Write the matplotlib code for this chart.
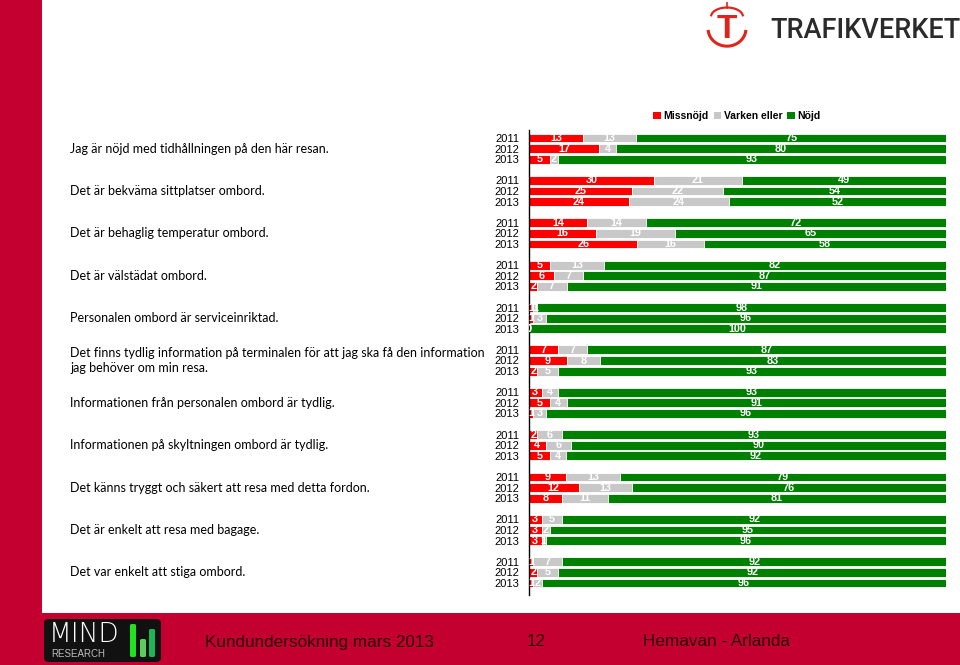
import matplotlib
matplotlib.use("Agg")
import matplotlib.pyplot as plt
from matplotlib.patches import Rectangle, FancyBboxPatch, Patch
from matplotlib.transforms import blended_transform_factory
import numpy as np

# ---------------- data ----------------
questions = [
    "Jag är nöjd med tidhållningen på den här resan.",
    "Det är bekväma sittplatser ombord.",
    "Det är behaglig temperatur ombord.",
    "Det är välstädat ombord.",
    "Personalen ombord är serviceinriktad.",
    "Det finns tydlig information på terminalen för att jag ska få den information\njag behöver om min resa.",
    "Informationen från personalen ombord är tydlig.",
    "Informationen på skyltningen ombord är tydlig.",
    "Det känns tryggt och säkert att resa med detta fordon.",
    "Det är enkelt att resa med bagage.",
    "Det var enkelt att stiga ombord.",
]
years = ["2011", "2012", "2013"]
series_names = ["Missnöjd", "Varken eller", "Nöjd"]

missnojd = [13, 17, 5, 30, 25, 24, 14, 16, 26, 5, 6, 2, 1, 1, 0, 7, 9, 2,
            3, 5, 1, 2, 4, 5, 9, 12, 8, 3, 3, 3, 1, 2, 1]
varken = [13, 4, 2, 21, 22, 24, 14, 19, 16, 13, 7, 7, 1, 3, 0, 7, 8, 5,
          4, 4, 3, 6, 6, 4, 13, 13, 11, 5, 2, 1, 7, 5, 2]
nojd = [75, 80, 93, 49, 54, 52, 72, 65, 58, 82, 87, 91, 98, 96, 100, 87, 83, 93,
        93, 91, 96, 93, 90, 92, 79, 76, 81, 92, 95, 96, 92, 92, 96]

colors = ["#FF0000", "#C8C8C8", "#008000"]

# ---------------- figure ----------------
W, H = 960, 665
fig = plt.figure(figsize=(W / 100, H / 100), dpi=100)
fig.patch.set_facecolor("white")

def fx(px):
    return px / W

def fy(py):
    return 1 - py / H

BRAND = "#C3002F"
# left red strip and footer band
fig.patches.append(Rectangle((0, 0), fx(42), 1, transform=fig.transFigure,
                             facecolor=BRAND, edgecolor="none", zorder=0))
fig.patches.append(Rectangle((0, 0), 1, (665 - 613) / H,
                             transform=fig.transFigure, facecolor=BRAND,
                             edgecolor="none", zorder=0))

# ---------------- chart axes ----------------
ax = fig.add_axes([fx(529), fy(595), fx(946) - fx(529), (595 - 130) / H])
ax.set_facecolor("none")

n_groups = len(questions)
ypos = np.array([g * 4 + j for g in range(n_groups) for j in range(3)], dtype=float)
vals = np.array([missnojd, varken, nojd], dtype=float)
totals = vals.sum(axis=0)
widths = vals / totals * 100.0

lefts = np.zeros(len(ypos))
for k in range(3):
    ax.barh(ypos, widths[k], left=lefts, height=0.84, color=colors[k],
            edgecolor="white", linewidth=0.6, label=series_names[k], zorder=2)
    for i in range(len(ypos)):
        ax.text(lefts[i] + widths[k][i] / 2, ypos[i], f"{int(vals[k][i])}",
                ha="center", va="center", color="white", fontweight="bold",
                fontsize=7.8, family="Liberation Sans", clip_on=True, zorder=3)
    lefts = lefts + widths[k]

scale = (583 - 138) / 42.0
ax.set_xlim(0, 100)
ax.set_ylim(42 + (595 - 583) / scale, (130 - 138) / scale)

ax.set_yticks(ypos)
ax.set_yticklabels(years * n_groups, fontsize=8, family="Liberation Sans")
ax.tick_params(axis="y", length=0, pad=7)
ax.set_xticks([])
for s in ["top", "right", "bottom"]:
    ax.spines[s].set_visible(False)
ax.spines["left"].set_color("black")
ax.spines["left"].set_linewidth(1.0)

# question labels
tr = blended_transform_factory(fig.transFigure, ax.transData)
for g, q in enumerate(questions):
    ax.text(fx(70), g * 4 + 1, q, transform=tr, ha="left", va="center",
            fontsize=9, family="Lato", color="black", linespacing=1.35,
            clip_on=False)

# legend
handles = [Patch(facecolor=c, edgecolor="none") for c in colors]
fig.legend(handles, series_names, loc="center", bbox_to_anchor=(fx(737), fy(116)),
           ncol=3, frameon=False, handlelength=0.7, handleheight=0.7,
           handletextpad=0.25, columnspacing=0.5,
           prop={"family": "Liberation Sans", "size": 7.5, "weight": "bold"})

# ---------------- Trafikverket logo ----------------
fig.text(fx(770), fy(30), "TRAFIKVERKET", ha="left", va="center", fontsize=19.5,
         family="Roboto", fontweight="medium", color="#2b2b2b")
fig.text(fx(727), fy(30), "T", ha="center", va="center", fontsize=24,
         family="Liberation Sans", fontweight="bold", color="#E0241B")
lx = fig.add_axes([fx(706), fy(48), fx(748) - fx(706), (48 - 2) / H])
lx.set_xlim(0, 1)
lx.set_ylim(0, 1)
lx.axis("off")
t = np.linspace(np.pi * 1.05, np.pi * 1.95, 40)
lx.plot(0.5 + 0.45 * np.cos(t), 0.42 + 0.38 * np.sin(t), color="#E0241B", lw=2.2)
t2 = np.linspace(0.05 * np.pi, 0.95 * np.pi, 40)
lx.plot(0.5 + 0.38 * np.cos(t2), 0.68 + 0.2 * np.sin(t2), color="#E0241B", lw=1.6)
lx.plot([0.5, 0.5], [0.88, 0.99], color="#E0241B", lw=1.2)

# ---------------- MIND Research logo ----------------
fig.patches.append(FancyBboxPatch((fx(44), fy(662)), fx(161) - fx(44), (662 - 619) / H,
                                  boxstyle="round,pad=0,rounding_size=0.006",
                                  transform=fig.transFigure, facecolor="#111111",
                                  edgecolor="none", zorder=1))
fig.text(fx(49), fy(635), "MIND", ha="left", va="center", fontsize=19,
         family="DejaVu Sans", fontweight="light", color="white", zorder=2)
fig.text(fx(51), fy(654), "RESEARCH", ha="left", va="center", fontsize=7,
         family="Liberation Sans", color="#bbbbbb", zorder=2)
for (x0, top, c) in [(130, 624, "#22e022"), (140, 639, "#5ccc5c"), (149, 629, "#1fb45a")]:
    fig.patches.append(FancyBboxPatch((fx(x0), fy(657)), fx(6), (657 - top) / H,
                                      boxstyle="round,pad=0,rounding_size=0.002",
                                      transform=fig.transFigure, facecolor=c,
                                      edgecolor="none", zorder=2))

# ---------------- footer text ----------------
FOOT = "#2a0508"
fig.text(fx(205), fy(642), "Kundundersökning mars 2013", ha="left", va="center",
         fontsize=12.3, family="Liberation Sans", color=FOOT)
fig.text(fx(527), fy(641), "12", ha="left", va="center",
         fontsize=12.3, family="Liberation Sans", color=FOOT)
fig.text(fx(643), fy(641), "Hemavan - Arlanda", ha="left", va="center",
         fontsize=12.3, family="Liberation Sans", color=FOOT)

fig.savefig("out.png", dpi=100, facecolor="white")
